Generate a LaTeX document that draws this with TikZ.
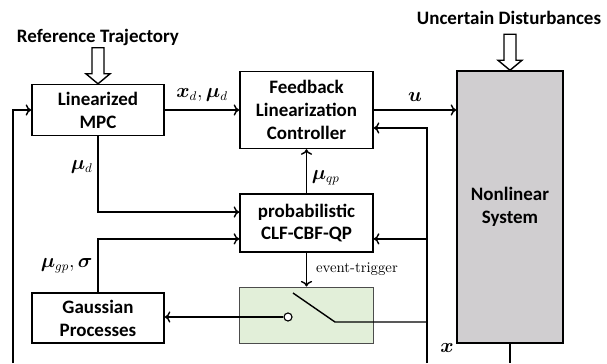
\documentclass[tikz,border=0pt]{standalone}
\usepackage{amsmath}
\usepackage{bm}
\usepackage{fontspec}
\setsansfont{Carlito}
\usetikzlibrary{arrows.meta}

\tikzset{
  block/.style={draw, line width=1pt, align=center, inner sep=0pt,
    font=\sffamily\bfseries\fontsize{13.5}{16.3}\selectfont},
  title/.style={font=\sffamily\bfseries\fontsize{13.5}{16}\selectfont},
  lbl/.style={font=\fontsize{13.5}{16}\selectfont},
  hollowarrow/.pic={
    \draw[line width=1pt, fill=white] (-6,-36) -- (6,-36) -- (6,-10) -- (12,-10)
      -- (0,0) -- (-12,-10) -- (-6,-10) -- cycle;
  }
}
\definecolor{swgreen}{RGB}{226,239,217}
\definecolor{plantgray}{RGB}{208,206,208}

\begin{document}
\begin{tikzpicture}[x=0.025cm, y=-0.025cm, line width=1pt, >={To[length=4pt,width=8pt]}]
            \useasboundingbox (0,0) rectangle (607,363);

            \node[title] (reftxt) at (98,37) {Reference Trajectory};
            \node[title] (disttxt) at (509,18) {Uncertain Disturbances};

            \node[block, minimum width=3.3cm, minimum height=1.275cm] (mpc) at (98,110) {Linearized \\ MPC};
            \node[block, minimum width=3.325cm, minimum height=1.925cm] (flc) at (306.5,110) {Feedback \\ Linearization \\ Controller};
            \node[block, minimum width=3.325cm, minimum height=1.45cm] (prob) at (306.5,223) {probabilistic \\ CLF-CBF-QP};
            \node[block, minimum width=3.3cm, minimum height=1.25cm] (gp) at (98,318) {Gaussian \\ Processes};
            \node[draw=black!70, line width=0.7pt, fill=swgreen, minimum width=3.325cm, minimum height=1.4cm] (sw) at (306.5,315) {};
            \node[block, fill=plantgray, minimum width=2.65cm, minimum height=6.8cm] (nl) at (510,207) {Nonlinear \\ System};

            \pic at (mpc.north) {hollowarrow};
            \pic at (nl.north) {hollowarrow};

            \node[circle, draw, fill=white, line width=0.8pt, minimum size=0.2cm, inner sep=0pt] (pin) at (288,317) {};
            \coordinate (armtop) at (293,293);
            \coordinate (armend) at (335,322);
            \coordinate (fb) at (427,363);
            \coordinate (lb) at (13,363);
            \coordinate (qpin) at ([yshift=-11.3pt]prob.east);

            \draw[->] (mpc) -- (flc) node[lbl, midway, above=2pt] {$\bm{x}_d, \bm{\mu}_d$};
            \draw[->] (flc.east) -- (flc.east -| nl.west) node[lbl, midway, above=2pt] {$\bm{u}$};
            \draw[->] (prob) -- (flc) node[lbl, pos=0.35, right] {$\bm{\mu}_{qp}$};
            \draw[->] (mpc.south) |- ([yshift=7.8pt]prob.west) node[lbl, pos=0.2, left] {$\bm{\mu}_d$};
            \draw[->] (gp.north) |- ([yshift=-11.3pt]prob.west) node[lbl, pos=0.25, left] {$\bm{\mu}_{gp}, \bm{\sigma}$};
            \draw[->] (prob) -- (sw) node[midway, right=3pt, font=\fontsize{10.5}{12}\selectfont] {event-trigger};
            \draw[->] (pin) -- (pin -| gp.east);
            \draw (armtop) -- (armend) -- (armend -| fb);
            \draw[->] (fb) |- ([yshift=-12.8pt]flc.east);
            \draw[->] (qpin -| fb) -- (qpin);
            \draw[->] (lb) |- (mpc.west);
            \draw (nl.south) -- (nl.south |- fb);
            \node[lbl] (xlbl) at (447,348) {$\bm{x}$};

        \end{tikzpicture}
\end{document}
